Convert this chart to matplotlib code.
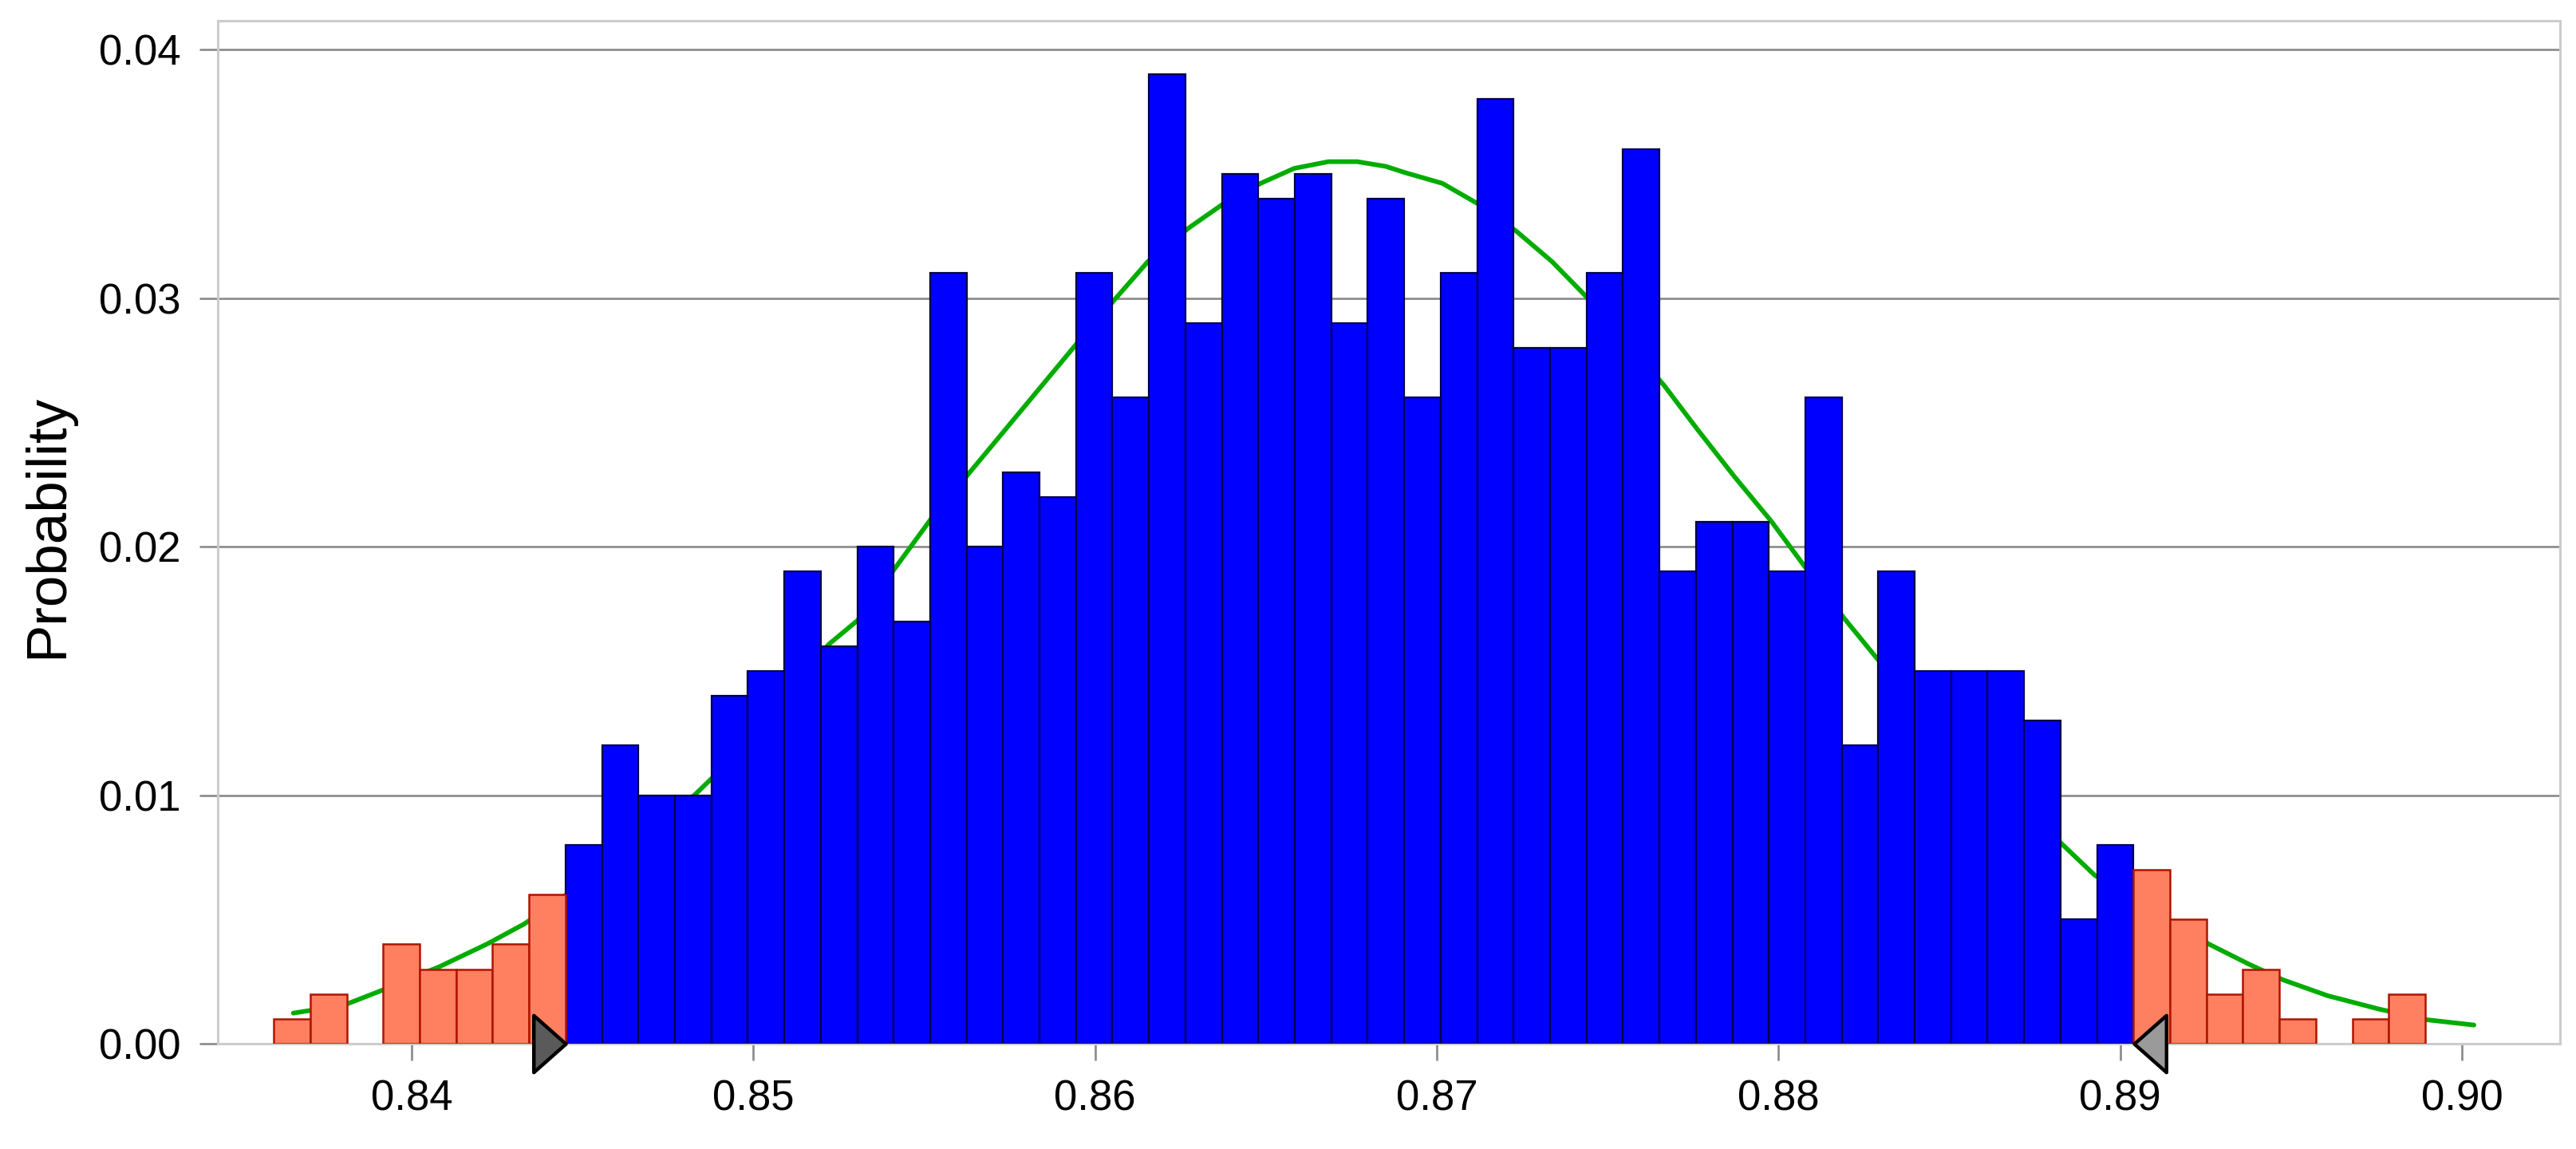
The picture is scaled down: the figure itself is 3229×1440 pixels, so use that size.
import numpy as np
import matplotlib
matplotlib.use("Agg")
import matplotlib.pyplot as plt
from matplotlib.path import Path

plt.rcParams["font.family"] = ["Liberation Sans", "DejaVu Sans"]

# ---------------- data ----------------
bin_start = 0.83597
bin_width = 0.001067
probabilities = [
    0.001, 0.002, 0.000, 0.004, 0.003, 0.003, 0.004, 0.006,
    0.008, 0.012, 0.010, 0.010, 0.014, 0.015, 0.019, 0.016, 0.020, 0.017,
    0.031, 0.020, 0.023, 0.022, 0.031, 0.026, 0.039, 0.029, 0.035, 0.034,
    0.035, 0.029, 0.034, 0.026, 0.031, 0.038, 0.028, 0.028, 0.031, 0.036,
    0.019, 0.021, 0.021, 0.019, 0.026, 0.012, 0.019, 0.015, 0.015, 0.015,
    0.013, 0.005, 0.008,
    0.007, 0.005, 0.002, 0.003, 0.001, 0.000, 0.001, 0.002,
]
lower_certainty = 0.8445
upper_certainty = 0.8904

fit_x = [0.83654, 0.83802, 0.83903, 0.84082, 0.84221, 0.84330, 0.84580,
         0.84830, 0.84881, 0.85221, 0.85305, 0.85413, 0.85522, 0.85639,
         0.85946, 0.86058, 0.86154, 0.86275, 0.86375, 0.86485, 0.86583,
         0.86683, 0.86767, 0.86851, 0.86907, 0.87016, 0.87121, 0.87233,
         0.87338, 0.87436, 0.87664, 0.87762, 0.87872, 0.87979, 0.88075,
         0.88189, 0.88287, 0.88550, 0.88832, 0.88926, 0.89259, 0.89375,
         0.89476, 0.89607, 0.89758, 0.89899, 0.90035]
fit_y = [0.00123, 0.00155, 0.00209, 0.00310, 0.00401, 0.00482, 0.00720,
         0.01003, 0.01071, 0.01607, 0.01703, 0.01910, 0.02115, 0.02308,
         0.02816, 0.02995, 0.03146, 0.03283, 0.03379, 0.03462, 0.03522,
         0.03549, 0.03549, 0.03530, 0.03505, 0.03462, 0.03379, 0.03269,
         0.03146, 0.03008, 0.02651, 0.02473, 0.02280, 0.02102, 0.01923,
         0.01717, 0.01552, 0.01160, 0.00800, 0.00677, 0.00401, 0.00321,
         0.00257, 0.00193, 0.00139, 0.00096, 0.00075]

x_ticks = [0.84, 0.85, 0.86, 0.87, 0.88, 0.89, 0.90]
x_tick_labels = ["0.84", "0.85", "0.86", "0.87", "0.88", "0.89", "0.90"]
y_ticks = [0.00, 0.01, 0.02, 0.03, 0.04]
y_tick_labels = ["0.00", "0.01", "0.02", "0.03", "0.04"]
y_label = "Probability"

# ---------------- figure ----------------
W, H = 3230, 1440
fig = plt.figure(figsize=(W / 100, H / 100), dpi=100)
left_px, right_px, top_px, bottom_px = 273, 3209, 26, 1308
ax = fig.add_axes([left_px / W, 1 - bottom_px / H,
                   (right_px - left_px) / W, (bottom_px - top_px) / H])
ax.set_xlim(0.83433, 0.90287)
ax.set_ylim(0, 0.04116)

probs = np.array(probabilities)
lefts = bin_start + bin_width * np.arange(len(probs))
centers = lefts + bin_width / 2
inside = (centers > lower_certainty) & (centers < upper_certainty)
nonzero = probs > 0

# fitted curve (behind bars)
ax.plot(fit_x, fit_y, color="#00AC00", lw=4.2, zorder=2,
        solid_capstyle="round", solid_joinstyle="round")

# bars
m = inside & nonzero
ax.bar(lefts[m], probs[m], width=bin_width, align="edge",
       color="#0000FF", edgecolor="#00004A", linewidth=1.6, zorder=3)
m = (~inside) & nonzero
ax.bar(lefts[m], probs[m], width=bin_width, align="edge",
       color="#FF8060", edgecolor="#B01400", linewidth=1.8, zorder=3)

# grid
ax.set_yticks(y_ticks)
ax.set_yticklabels(y_tick_labels)
ax.set_xticks(x_ticks)
ax.set_xticklabels(x_tick_labels)
ax.yaxis.grid(True, color="#8A8A8A", lw=1.9, zorder=1)
ax.set_axisbelow(True)

for s in ax.spines.values():
    s.set_color("#CCCCCC")
    s.set_linewidth(2.2)

ax.tick_params(axis="y", direction="out", length=16.5, width=1.9,
               color="#8A8A8A", pad=17, labelsize=38, labelcolor="black")
ax.tick_params(axis="x", direction="out", length=15, width=1.9,
               color="#8A8A8A", pad=17, labelsize=38, labelcolor="black")

fig.text(60 / W, 1 - 659 / H, y_label, rotation=90, ha="center", va="center",
         fontsize=51, color="black")

# certainty grabbers
tri_right = Path([(0, 0), (-1.13, 1), (-1.13, -1), (0, 0)], closed=True)
tri_left = Path([(0, 0), (1.13, 1), (1.13, -1), (0, 0)], closed=True)
ax.plot([lower_certainty], [0], marker=tri_right, markersize=58,
        markerfacecolor="#5A5A5A", markeredgecolor="black",
        markeredgewidth=3.2, clip_on=False, zorder=6, linestyle="none")
ax.plot([upper_certainty], [0], marker=tri_left, markersize=58,
        markerfacecolor="#9A9A9A", markeredgecolor="black",
        markeredgewidth=3.2, clip_on=False, zorder=6, linestyle="none")

fig.savefig("out.png", dpi=100, facecolor="white")
